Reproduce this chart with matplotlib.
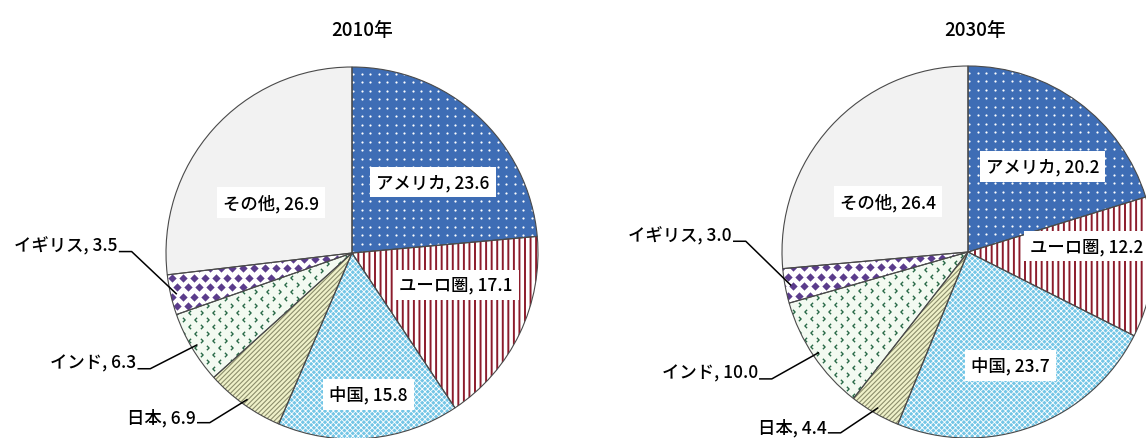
import numpy as np
import matplotlib
matplotlib.use('Agg')
import matplotlib.pyplot as plt
from matplotlib.patches import Wedge

plt.rcParams['font.family'] = ['Noto Sans CJK JP', 'DejaVu Sans']
plt.rcParams['font.weight'] = 'medium'
plt.rcParams['hatch.linewidth'] = 1.0

# data (shares of world GDP, %)
countries = ['アメリカ', 'ユーロ圏', '中国', '日本', 'インド', 'イギリス', 'その他']
share_2010 = [23.6, 17.1, 15.8, 6.9, 6.3, 3.5, 26.9]
share_2030 = [20.2, 12.2, 23.7, 4.4, 10.0, 3.0, 26.4]
years = ['2010年', '2030年']

# styles: (face, pattern kind, pattern colour)
styles = [
    ('#3E6DB5', 'dots', 'white'),
    ('white', '|||', '#8C1C2C'),
    ('#74C6E6', 'xxxxxx', 'white'),
    ('#EFF1C9', '///////', '#8C8E6C'),
    ('#F3FAF1', 'chevron', '#2A6A48'),
    ('white', 'diamond', '#5B3C8C'),
    ('#F2F2F2', None, None),
]
hatch_lw = {'|||': 1.4, 'xxxxxx': 0.6, '///////': 0.8}

# layout in pixels (figure 1146x439, y up)
R = 186.0
centers = [(352.0, 185.0), (968.0, 186.0)]
title_x = [362, 975]
# inner label positions (in units of R from centre), None = outside label
inner_pos = [
    [(0.435, 0.38), (0.56, -0.17), (0.09, -0.76), None, None, None, (-0.435, 0.27)],
    [(0.40, 0.46), (0.64, 0.03), (0.23, -0.61), None, None, None, (-0.43, 0.27)],
]
# outside labels: right end of text (in units of R)
outer_pos = [
    {3: (-0.84, -0.88), 4: (-1.16, -0.59), 5: (-1.26, 0.04)},
    {3: (-0.76, -0.94), 4: (-1.13, -0.65), 5: (-1.27, 0.09)},
]

fig = plt.figure(figsize=(11.46, 4.39), dpi=100)
ax = fig.add_axes([0, 0, 1, 1])


def texture(w, cx, cy, kind, color):
    if kind == 'dots':
        step, sy, stag = 8.5, 8.5, False
    elif kind == 'diamond':
        step, sy, stag = 11.0, 9.5, True
    else:
        step, sy, stag = 12.0, 7.0, True
    xs = np.arange(cx - R, cx + R + step, step, dtype=float)
    ys = np.arange(cy - R, cy + R + sy, sy, dtype=float)
    gx, gy = np.meshgrid(xs, ys)
    if stag:
        gx[1::2] += step / 2
    if kind == 'dots':
        sc = [ax.scatter(gx.ravel(), gy.ravel(), s=2.5, c=color, lw=0, zorder=1.5)]
    elif kind == 'diamond':
        sc = [ax.scatter(gx.ravel(), gy.ravel(), marker='D', s=18, c=color, lw=0, zorder=1.5)]
    else:
        left = [(0.5, 1), (-0.5, 0), (0.5, -1)]
        right = [(-0.5, 1), (0.5, 0), (-0.5, -1)]
        sc = [ax.scatter(gx[:, 0::2].ravel(), gy[:, 0::2].ravel(), marker=left, s=10,
                         facecolors='none', edgecolors=color, linewidths=1.0, zorder=1.5),
              ax.scatter(gx[:, 1::2].ravel(), gy[:, 1::2].ravel(), marker=right, s=10,
                         facecolors='none', edgecolors=color, linewidths=1.0, zorder=1.5)]
    for s in sc:
        s.set_clip_path(w)


for k, vals in enumerate([share_2010, share_2030]):
    cx, cy = centers[k]
    wedges, _ = ax.pie(vals, startangle=90, counterclock=False, radius=R,
                       center=(cx, cy), wedgeprops=dict(lw=0))
    for i, w in enumerate(wedges):
        face, kind, pcol = styles[i]
        w.set_facecolor(face)
        if kind in ('dots', 'diamond', 'chevron'):
            texture(w, cx, cy, kind, pcol)
        elif kind is not None:
            hp = Wedge((cx, cy), R, w.theta1, w.theta2, fc='none', ec=pcol,
                       lw=0, hatch=kind, zorder=1.5)
            if hasattr(hp, 'set_hatch_linewidth'):
                hp.set_hatch_linewidth(hatch_lw.get(kind, 1.0))
            ax.add_patch(hp)
        ax.add_patch(Wedge((cx, cy), R, w.theta1, w.theta2, fc='none',
                           ec='#4a4a4a', lw=0.8, zorder=2))

        label = f'{countries[i]}, {vals[i]:.1f}'
        if inner_pos[k][i] is not None:
            px, py = inner_pos[k][i]
            ax.text(cx + px * R, cy + py * R, label, ha='center', va='center',
                    fontsize=12.5, zorder=3,
                    bbox=dict(boxstyle='square,pad=0.35', fc='white', ec='none'))
        else:
            px, py = outer_pos[k][i]
            tx, ty = cx + px * R, cy + py * R
            ax.text(tx, ty, label, ha='right', va='center', fontsize=12.5, zorder=3)
            mid = np.deg2rad((w.theta1 + w.theta2) / 2)
            ex, ey = cx + 0.97 * R * np.cos(mid), cy + 0.97 * R * np.sin(mid)
            ax.plot([tx + 2, tx + 14, ex], [ty - 6, ty - 6, ey],
                    color='black', lw=1.1, zorder=3)

    ax.text(title_x[k], 439 - 30, years[k], ha='center', va='center', fontsize=13.5)

ax.set_xlim(0, 1146)
ax.set_ylim(0, 439)
ax.set_aspect('equal')
ax.axis('off')

plt.savefig('out.png', dpi=100)
